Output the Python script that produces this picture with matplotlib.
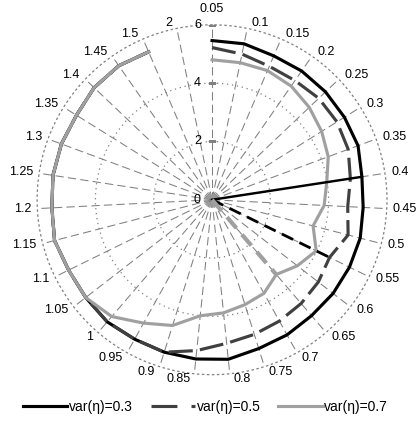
import numpy as np
import matplotlib.pyplot as plt
from matplotlib.lines import Line2D

plt.rcParams['font.family'] = ['Liberation Sans', 'DejaVu Sans']

#data input
categories = ['0.05', '0.1', '0.15', '0.2', '0.25', '0.3', '0.35', '0.4', '0.45', '0.5',
              '0.55', '0.6', '0.65', '0.7', '0.75', '0.8', '0.85', '0.9', '0.95', '1',
              '1.05', '1.1', '1.15', '1.2', '1.25', '1.3', '1.35', '1.4', '1.45', '1.5', '2']
nan = np.nan
var03 = [5.46, 5.46, 5.37, 5.38, 5.37, 5.35, 5.34, 5.2, 5.19, 5.25,
         5.25, 5.25, 5.24, 5.3, 5.35, 5.5, 5.49, 5.48, 5.47, 5.52,
         5.48, 5.48, 5.58, 5.5, 5.52, 5.51, 5.48, 5.58, 5.6, 5.52, nan]
var05 = [5.22, 5.1, 4.98, 4.98, 5.05, 5.05, 4.98, 4.8, 4.66, 4.82,
         4.49, 4.61, 4.69, 4.76, 4.84, 4.95, 5.2, 5.48, 5.47, 5.52,
         5.48, 5.48, 5.58, 5.5, 5.52, 5.51, 5.48, 5.58, 5.6, 5.52, nan]
var07 = [4.8, 4.8, 4.82, 4.75, 4.6, 4.43, 4.25, 3.98, 3.85, 3.58,
         3.98, 3.7, 3.38, 3.67, 3.77, 3.9, 4.0, 4.52, 4.84, 5.28,
         5.48, 5.48, 5.58, 5.5, 5.52, 5.51, 5.48, 5.58, 5.6, 5.52, nan]
opt_cats = ['0.4', '0.55', '0.65']  # radial line per series
labels = ['var(η)=0.3', 'var(η)=0.5', 'var(η)=0.7']
r_ticks = [0, 2, 4, 6]

series = [var03, var05, var07]
colors = ['black', '#404040', '#a0a0a0']
styles = ['-', (0, (7.7, 2.3)), '-']
opt_styles = [('-', 1.75, 'black'), ((0, (4.5, 2.5)), 2.0, 'black'), ((0, (3.5, 2)), 3.0, '#a0a0a0')]

theta = np.arange(len(categories)) * 2 * np.pi / len(categories)

fig = plt.figure(figsize=(4.17, 4.25), dpi=100)
ax = fig.add_axes([0.089, 0.118, 0.839, 0.824], projection='polar')
ax.set_theta_zero_location('N')
ax.set_theta_direction(-1)
ax.set_ylim(0, 6)

#grid
ax.set_xticks(theta)
ax.set_xticklabels([])
ax.set_yticks([2, 4])
ax.set_yticklabels([])
ax.xaxis.grid(True, color='#808080', lw=0.75, ls=(0, (8, 4)))
ax.yaxis.grid(True, color='#808080', lw=0.9, ls=(0, (1, 3)))
ax.spines['polar'].set_linestyle((0, (1, 3)))
ax.spines['polar'].set_edgecolor('#808080')
ax.spines['polar'].set_linewidth(0.9)
ax.tick_params(axis='x', direction='inout', length=5, width=0.75, color='#808080')

#center blob
ax.scatter([0], [0], s=60, color='#999999', zorder=2)

for vals, col, ls in zip(series, colors, styles):
    ax.plot(theta, vals, color=col, lw=2.25, ls=ls, zorder=3)

for vals, opt, (ls, lw, col) in zip(series, opt_cats, opt_styles):
    i = categories.index(opt)
    ax.plot([theta[i], theta[i]], [0, vals[i]], color=col, lw=lw, ls=ls, zorder=4)

#value axis labels + ticks
for v in r_ticks:
    ax.plot([0], [v], marker='_', ms=6, mew=0.75, color='#808080', zorder=2)
    ax.annotate(str(v), xy=(0, v), xytext=(-8, 0), textcoords='offset points',
                ha='right', va='center', fontsize=9, annotation_clip=False)

#category labels
for t, lab in zip(theta, categories):
    s, c = np.sin(t), np.cos(t)
    if abs(s) < 0.05:
        ax.annotate(lab, (t, 6), xytext=(0, 7 * np.sign(c)), textcoords='offset points',
                    ha='center', va='bottom' if c > 0 else 'top', fontsize=9, annotation_clip=False)
    else:
        ax.annotate(lab, (t, 6), xytext=(np.sign(s) * (2.5 + 2 * abs(s)), 4 * c),
                    textcoords='offset points', ha='left' if s > 0 else 'right',
                    va='center', fontsize=9, annotation_clip=False)

handles = [Line2D([], [], color='black', lw=2.25),
           Line2D([], [], color='#404040', lw=2.25, ls=(0, (8.3, 4.5))),
           Line2D([], [], color='#a0a0a0', lw=2.25)]
fig.legend(handles, labels, loc='center', bbox_to_anchor=(0.493, 0.042), ncol=3,
           frameon=False, fontsize=10, handlelength=3.2, handletextpad=0.1, columnspacing=1.3)

plt.savefig('out.png', dpi=100)
